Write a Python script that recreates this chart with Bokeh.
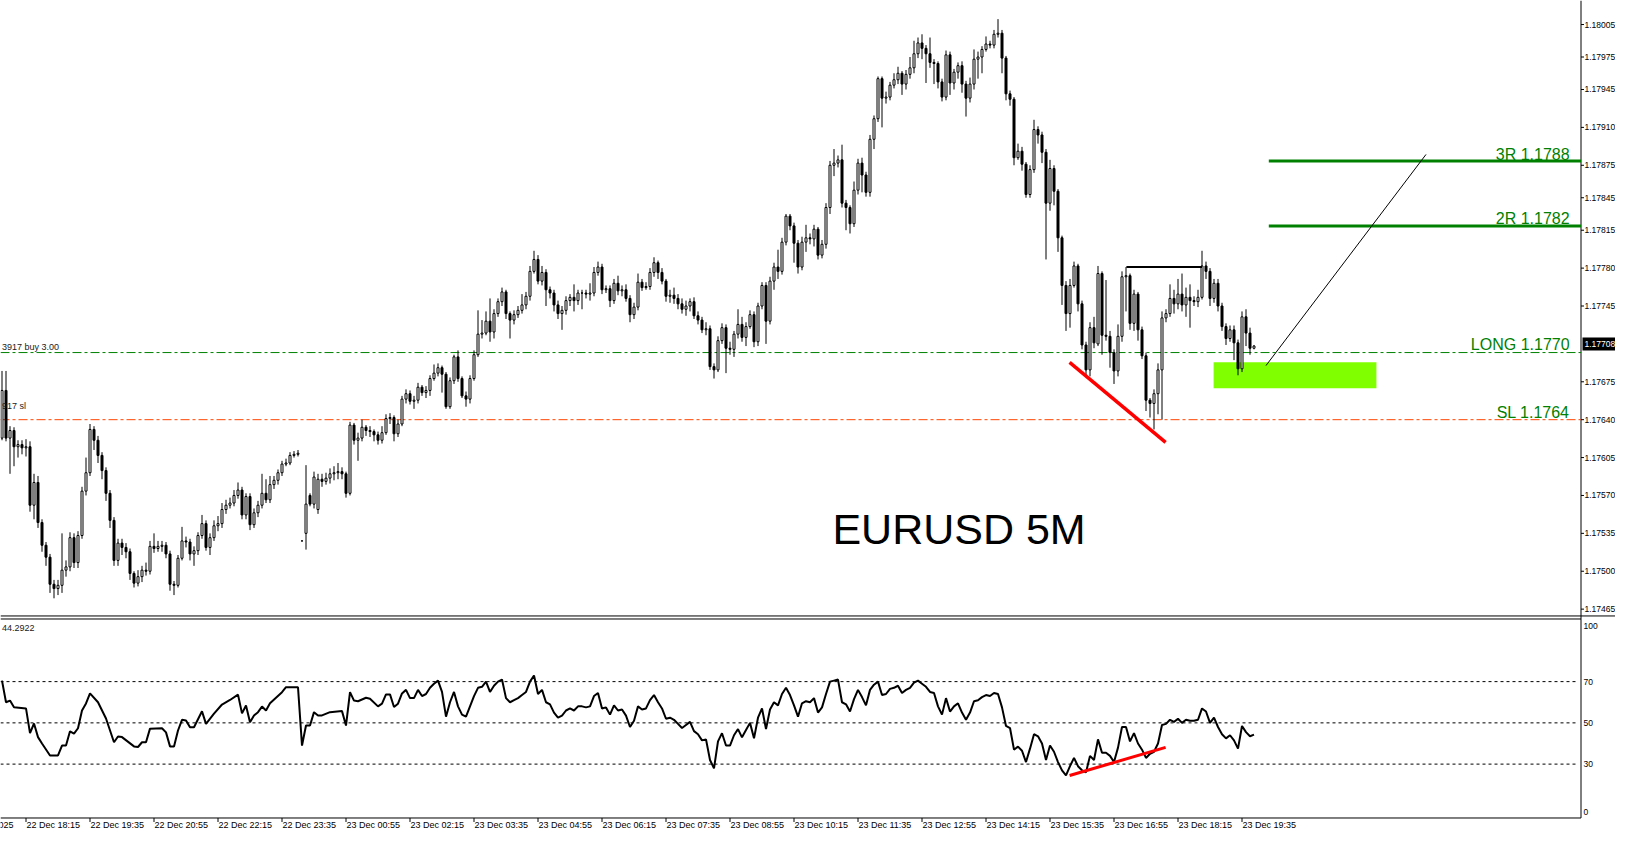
from bokeh.plotting import figure
from bokeh.models import Range1d, ColumnDataSource
from bokeh.embed import file_html
from bokeh.resources import INLINE
from bokeh.core.properties import value

# ---------------- data (EURUSD M5, bar index 0 = 22 Dec 17:45) ----------------
opens = [
1.17623,1.17667,1.17623,1.17630,1.17615,1.17617,1.17614,1.17615,1.17561,1.17582,
1.17545,1.17524,1.17513,1.17488,1.17484,1.17487,1.17501,1.17504,1.17531,1.17508,
1.17533,1.17574,1.17591,1.17631,1.17621,1.17607,1.17593,1.17572,1.17547,1.17510,
1.17526,1.17522,1.17518,1.17498,1.17489,1.17495,1.17501,1.17500,1.17523,1.17521,
1.17523,1.17524,1.17516,1.17488,1.17487,1.17512,1.17528,1.17527,1.17516,1.17519,
1.17533,1.17544,1.17522,1.17531,1.17542,1.17544,1.17557,1.17561,1.17563,1.17570,
1.17575,1.17552,1.17569,1.17543,1.17554,1.17561,1.17572,1.17566,1.17580,1.17584,
1.17591,1.17599,1.17600,1.17607,1.17608,1.17528,1.17535,1.17570,1.17562,1.17557,
1.17585,1.17583,1.17586,1.17590,1.17591,1.17592,1.17590,1.17572,1.17635,1.17621,
1.17623,1.17633,1.17630,1.17629,1.17626,1.17621,1.17628,1.17641,1.17642,1.17627,
1.17636,1.17659,1.17664,1.17657,1.17658,1.17670,1.17665,1.17667,1.17678,1.17683,
1.17688,1.17682,1.17652,1.17676,1.17698,1.17678,1.17662,1.17659,1.17678,1.17700,
1.17719,1.17720,1.17731,1.17721,1.17738,1.17749,1.17758,1.17738,1.17732,1.17737,
1.17741,1.17746,1.17754,1.17777,1.17788,1.17768,1.17776,1.17760,1.17757,1.17746,
1.17738,1.17741,1.17750,1.17753,1.17750,1.17757,1.17757,1.17756,1.17757,1.17776,
1.17781,1.17760,1.17761,1.17750,1.17766,1.17759,1.17760,1.17752,1.17737,1.17744,
1.17767,1.17762,1.17763,1.17776,1.17785,1.17776,1.17768,1.17754,1.17755,1.17752,
1.17747,1.17742,1.17745,1.17749,1.17736,1.17732,1.17723,1.17724,1.17689,1.17686,
1.17713,1.17725,1.17706,1.17705,1.17719,1.17728,1.17716,1.17726,1.17737,1.17712,
1.17745,1.17764,1.17731,1.17768,1.17781,1.17777,1.17804,1.17828,1.17819,1.17803,
1.17781,1.17804,1.17808,1.17807,1.17816,1.17792,1.17802,1.17836,1.17875,1.17877,
1.17880,1.17840,1.17836,1.17821,1.17852,1.17877,1.17866,1.17850,1.17899,1.17918,
1.17955,1.17937,1.17938,1.17949,1.17954,1.17960,1.17950,1.17959,1.17965,1.17978,
1.17988,1.17983,1.17978,1.17970,1.17969,1.17952,1.17938,1.17977,1.17951,1.17961,
1.17967,1.17950,1.17937,1.17950,1.17973,1.17975,1.17982,1.17987,1.17986,1.17996,
1.17997,1.17974,1.17941,1.17936,1.17882,1.17888,1.17876,1.17848,1.17871,1.17908,
1.17903,1.17887,1.17840,1.17872,1.17851,1.17808,1.17764,1.17738,1.17764,1.17782,
1.17747,1.17709,1.17686,1.17725,1.17710,1.17775,1.17718,1.17717,1.17702,1.17685,
1.17717,1.17772,1.17773,1.17729,1.17756,1.17723,1.17699,1.17658,1.17655,1.17664,
1.17686,1.17734,1.17738,1.17752,1.17747,1.17756,1.17746,1.17753,1.17750,1.17749,
1.17753,1.17782,1.17777,1.17752,1.17766,1.17745,1.17726,1.17715,1.17723,1.17711,
1.17687,1.17735,1.17720,1.17706]

closes = [
1.17667,1.17623,1.17630,1.17615,1.17617,1.17614,1.17615,1.17561,1.17582,1.17545,
1.17524,1.17513,1.17488,1.17484,1.17487,1.17501,1.17504,1.17531,1.17508,1.17533,
1.17574,1.17591,1.17631,1.17621,1.17607,1.17593,1.17572,1.17547,1.17510,1.17526,
1.17522,1.17518,1.17498,1.17489,1.17495,1.17501,1.17500,1.17523,1.17521,1.17523,
1.17524,1.17516,1.17488,1.17487,1.17512,1.17528,1.17527,1.17516,1.17519,1.17533,
1.17544,1.17522,1.17531,1.17542,1.17544,1.17557,1.17561,1.17563,1.17570,1.17575,
1.17552,1.17569,1.17543,1.17554,1.17561,1.17572,1.17566,1.17580,1.17584,1.17591,
1.17599,1.17600,1.17607,1.17608,1.17609,1.17528,1.17562,1.17562,1.17587,1.17585,
1.17583,1.17586,1.17590,1.17591,1.17592,1.17590,1.17572,1.17635,1.17621,1.17623,
1.17633,1.17630,1.17629,1.17626,1.17621,1.17628,1.17641,1.17642,1.17627,1.17636,
1.17659,1.17664,1.17657,1.17658,1.17670,1.17665,1.17667,1.17678,1.17683,1.17688,
1.17682,1.17652,1.17676,1.17698,1.17678,1.17662,1.17659,1.17678,1.17700,1.17719,
1.17720,1.17731,1.17721,1.17738,1.17749,1.17758,1.17738,1.17732,1.17737,1.17741,
1.17746,1.17754,1.17777,1.17788,1.17768,1.17776,1.17760,1.17757,1.17746,1.17738,
1.17741,1.17750,1.17753,1.17750,1.17757,1.17757,1.17756,1.17757,1.17776,1.17781,
1.17760,1.17761,1.17750,1.17766,1.17759,1.17760,1.17752,1.17737,1.17744,1.17767,
1.17762,1.17763,1.17776,1.17785,1.17776,1.17768,1.17754,1.17755,1.17752,1.17747,
1.17742,1.17745,1.17749,1.17736,1.17732,1.17723,1.17724,1.17689,1.17686,1.17713,
1.17725,1.17706,1.17705,1.17719,1.17728,1.17716,1.17726,1.17737,1.17712,1.17745,
1.17764,1.17731,1.17768,1.17781,1.17777,1.17804,1.17828,1.17819,1.17803,1.17781,
1.17804,1.17808,1.17807,1.17816,1.17792,1.17802,1.17836,1.17875,1.17877,1.17880,
1.17840,1.17836,1.17821,1.17852,1.17877,1.17866,1.17850,1.17899,1.17918,1.17955,
1.17937,1.17938,1.17949,1.17954,1.17960,1.17950,1.17959,1.17965,1.17978,1.17988,
1.17983,1.17978,1.17970,1.17969,1.17952,1.17938,1.17977,1.17951,1.17961,1.17967,
1.17950,1.17937,1.17950,1.17973,1.17975,1.17982,1.17987,1.17986,1.17996,1.17997,
1.17974,1.17941,1.17936,1.17882,1.17888,1.17876,1.17848,1.17871,1.17908,1.17903,
1.17887,1.17840,1.17872,1.17851,1.17808,1.17764,1.17738,1.17764,1.17782,1.17747,
1.17709,1.17686,1.17725,1.17711,1.17775,1.17718,1.17717,1.17702,1.17685,1.17717,
1.17772,1.17773,1.17729,1.17756,1.17723,1.17699,1.17658,1.17655,1.17664,1.17686,
1.17734,1.17738,1.17752,1.17747,1.17756,1.17746,1.17753,1.17750,1.17749,1.17753,
1.17782,1.17777,1.17752,1.17766,1.17745,1.17726,1.17715,1.17723,1.17711,1.17687,
1.17735,1.17720,1.17706,1.17708]

highs = [
1.17685,1.17685,1.17634,1.17633,1.17621,1.17621,1.17622,1.17620,1.17590,1.17588,
1.17548,1.17527,1.17516,1.17492,1.17492,1.17535,1.17510,1.17536,1.17535,1.17537,
1.17578,1.17605,1.17636,1.17634,1.17625,1.17610,1.17596,1.17575,1.17550,1.17530,
1.17530,1.17526,1.17521,1.17500,1.17501,1.17505,1.17508,1.17528,1.17535,1.17528,
1.17528,1.17527,1.17519,1.17491,1.17515,1.17541,1.17532,1.17530,1.17523,1.17536,
1.17552,1.17547,1.17535,1.17547,1.17551,1.17563,1.17566,1.17568,1.17575,1.17582,
1.17578,1.17572,1.17572,1.17558,1.17565,1.17590,1.17585,1.17588,1.17588,1.17594,
1.17602,1.17604,1.17610,1.17611,1.17612,1.17528,1.17598,1.17572,1.17592,1.17590,
1.17590,1.17591,1.17595,1.17597,1.17600,1.17596,1.17592,1.17638,1.17637,1.17628,
1.17640,1.17635,1.17634,1.17631,1.17629,1.17634,1.17645,1.17646,1.17644,1.17640,
1.17662,1.17668,1.17667,1.17662,1.17674,1.17672,1.17671,1.17681,1.17691,1.17692,
1.17690,1.17684,1.17679,1.17700,1.17704,1.17680,1.17666,1.17681,1.17704,1.17741,
1.17732,1.17740,1.17752,1.17742,1.17752,1.17762,1.17760,1.17740,1.17741,1.17745,
1.17756,1.17758,1.17782,1.17796,1.17792,1.17782,1.17779,1.17763,1.17760,1.17750,
1.17745,1.17754,1.17756,1.17765,1.17760,1.17760,1.17760,1.17766,1.17781,1.17786,
1.17784,1.17764,1.17764,1.17770,1.17773,1.17764,1.17765,1.17755,1.17748,1.17775,
1.17770,1.17767,1.17780,1.17790,1.17787,1.17780,1.17770,1.17760,1.17762,1.17756,
1.17752,1.17750,1.17752,1.17753,1.17740,1.17735,1.17730,1.17727,1.17692,1.17717,
1.17729,1.17728,1.17712,1.17722,1.17742,1.17735,1.17730,1.17741,1.17740,1.17748,
1.17767,1.17767,1.17772,1.17785,1.17797,1.17808,1.17830,1.17830,1.17822,1.17806,
1.17809,1.17820,1.17812,1.17820,1.17818,1.17806,1.17840,1.17879,1.17890,1.17884,
1.17894,1.17843,1.17838,1.17860,1.17881,1.17882,1.17869,1.17903,1.17921,1.17957,
1.17957,1.17943,1.17952,1.17960,1.17966,1.17962,1.17963,1.17975,1.17990,1.17993,
1.17996,1.17986,1.17993,1.17973,1.17971,1.17955,1.17981,1.17980,1.17964,1.17970,
1.17971,1.17953,1.17956,1.17982,1.17980,1.17985,1.17994,1.17990,1.18000,1.18010,
1.18000,1.17976,1.17944,1.17938,1.17895,1.17892,1.17878,1.17875,1.17917,1.17911,
1.17906,1.17890,1.17880,1.17875,1.17853,1.17810,1.17768,1.17770,1.17786,1.17784,
1.17750,1.17712,1.17730,1.17735,1.17782,1.17777,1.17769,1.17722,1.17705,1.17728,
1.17777,1.17781,1.17775,1.17760,1.17758,1.17726,1.17702,1.17660,1.17668,1.17692,
1.17740,1.17742,1.17765,1.17760,1.17770,1.17775,1.17762,1.17765,1.17754,1.17760,
1.17796,1.17786,1.17780,1.17770,1.17770,1.17748,1.17729,1.17727,1.17727,1.17714,
1.17740,1.17742,1.17725,1.17709]

lows = [
1.17621,1.17620,1.17590,1.17597,1.17605,1.17608,1.17606,1.17555,1.17548,1.17540,
1.17518,1.17505,1.17480,1.17475,1.17478,1.17480,1.17495,1.17500,1.17503,1.17503,
1.17530,1.17570,1.17588,1.17612,1.17600,1.17585,1.17565,1.17540,1.17505,1.17505,
1.17515,1.17512,1.17492,1.17485,1.17486,1.17490,1.17496,1.17497,1.17517,1.17518,
1.17518,1.17512,1.17482,1.17478,1.17485,1.17510,1.17522,1.17510,1.17505,1.17515,
1.17530,1.17519,1.17515,1.17528,1.17537,1.17540,1.17553,1.17558,1.17560,1.17567,
1.17548,1.17548,1.17538,1.17540,1.17550,1.17558,1.17563,1.17563,1.17576,1.17580,
1.17588,1.17597,1.17598,1.17605,1.17606,1.17528,1.17520,1.17560,1.17558,1.17553,
1.17578,1.17580,1.17581,1.17584,1.17585,1.17585,1.17568,1.17570,1.17617,1.17602,
1.17620,1.17625,1.17624,1.17620,1.17617,1.17618,1.17626,1.17636,1.17620,1.17624,
1.17634,1.17655,1.17654,1.17650,1.17655,1.17662,1.17660,1.17662,1.17676,1.17680,
1.17665,1.17650,1.17650,1.17673,1.17675,1.17660,1.17652,1.17655,1.17676,1.17698,
1.17715,1.17718,1.17712,1.17715,1.17735,1.17745,1.17733,1.17715,1.17728,1.17734,
1.17738,1.17742,1.17750,1.17775,1.17765,1.17764,1.17745,1.17752,1.17740,1.17733,
1.17723,1.17737,1.17745,1.17740,1.17746,1.17742,1.17752,1.17750,1.17754,1.17773,
1.17756,1.17757,1.17744,1.17747,1.17755,1.17754,1.17749,1.17730,1.17733,1.17741,
1.17759,1.17760,1.17760,1.17772,1.17770,1.17765,1.17749,1.17748,1.17747,1.17742,
1.17738,1.17736,1.17740,1.17733,1.17728,1.17720,1.17718,1.17686,1.17678,1.17684,
1.17710,1.17683,1.17700,1.17698,1.17715,1.17712,1.17708,1.17724,1.17707,1.17708,
1.17742,1.17710,1.17728,1.17760,1.17770,1.17774,1.17801,1.17815,1.17785,1.17775,
1.17778,1.17795,1.17802,1.17800,1.17788,1.17789,1.17798,1.17830,1.17865,1.17873,
1.17836,1.17815,1.17812,1.17818,1.17848,1.17850,1.17846,1.17846,1.17890,1.17915,
1.17910,1.17932,1.17935,1.17946,1.17950,1.17940,1.17945,1.17955,1.17960,1.17974,
1.17973,1.17951,1.17965,1.17950,1.17946,1.17934,1.17935,1.17940,1.17945,1.17955,
1.17942,1.17920,1.17933,1.17945,1.17955,1.17960,1.17980,1.17983,1.17983,1.17993,
1.17960,1.17935,1.17930,1.17875,1.17880,1.17870,1.17845,1.17845,1.17868,1.17895,
1.17877,1.17788,1.17833,1.17838,1.17795,1.17746,1.17722,1.17725,1.17762,1.17740,
1.17705,1.17681,1.17680,1.17706,1.17708,1.17700,1.17713,1.17688,1.17673,1.17680,
1.17712,1.17740,1.17723,1.17722,1.17713,1.17696,1.17648,1.17642,1.17631,1.17645,
1.17640,1.17730,1.17735,1.17738,1.17742,1.17740,1.17735,1.17725,1.17745,1.17744,
1.17751,1.17770,1.17745,1.17748,1.17740,1.17722,1.17709,1.17712,1.17695,1.17681,
1.17684,1.17708,1.17700,1.17705]

# RSI(14) read from the indicator window: vertices (bar index, value)
rsi_bars = [0,1,2,3,6,7,8,9,10,12,14,15,16,17,18,19,20,21,22,24,26,28,29,30,33,34,35,36,37,40,
            41,42,43,44,45,46,47,48,50,51,53,55,57,59,60,61,62,63,64,65,66,67,70,71,74,75,76,77,78,79,
            80,82,85,86,87,88,89,91,92,94,95,96,97,98,99,100] + list(range(101, 314))
rsi_vals = [70.5,60.0,60.8,57.6,57.0,45.0,49.7,43.1,40.0,34.2,34.2,39.0,39.0,45.9,44.8,47.4,56.0,59.4,64.3,60.0,
            52.1,40.6,43.4,43.1,38.6,38.3,40.6,40.6,47.2,47.4,45.4,38.6,38.6,46.3,51.5,51.2,47.9,47.9,55.6,49.5,
            54.5,58.9,61.1,63.7,54.6,58.4,50.3,53.6,55.2,57.9,56.0,59.5,64.9,67.3,67.3,39.0,48.7,48.7,55.2,53.6,
            53.6,55.2,55.7,48.7,64.9,60.8,60.5,62.2,61.7,58.0,59.3,63.8,63.8,57.7,59.3,64.3,
            66,62,62,66,63,64,67,69,70.5,                      # 101-109
            65,53,60,65,58,54,53,58,63,67,                      # 110-119
            67.5,70,65,68,70,71,62,60,61,62,                    # 120-129
            63.5,65,70,73,64,66,60,59,55,52.5,                  # 130-139
            53.5,56,57,56,58,58,57.5,58,63,64.5,                # 140-149
            57,57.5,54,58.5,56,56.5,53.5,48,51,58,              # 150-159
            56.5,57,61,63.5,60,57,52,52.5,51.5,49.5,            # 160-169
            47.5,49,50.5,46,44.5,41.5,42,32,28,41,              # 170-179
            45,39,39,44,47,43,46.5,50,42.5,52.5,                # 180-189
            57,47,56.5,60,58.5,64,67,63.5,58.5,53,              # 190-199
            59.5,60.5,60,62,55,57.5,64,70,70.5,71,              # 200-209
            60,59,55.5,61.5,66,62.5,58.5,66,68.5,70,            # 210-219
            63.5,64,66.5,67,68,64.5,66,67,69.5,70.5,            # 220-229
            69,67.5,65,64.5,58,54,62,55.5,58,59.5,              # 230-239
            55,51.5,55,60.5,61,62.5,63.5,63,64.5,64,            # 240-249
            57.5,48.5,47.5,37,38.5,36.5,31,37.5,44.5,43.5,      # 250-259
            40,32,39,36,31,27,24.5,29,33,29,                    # 260-269
            27,26,34,32,42,35.5,35.5,34,31,38,                  # 270-279
            48,48,41,45,40,37,33,35,36,40,                      # 280-289
            49,49.5,51.5,50.5,52,50,51.5,51,51,51.5,            # 290-299
            57,55.5,50,52.5,48,44.5,42.5,44,41.5,37.5,          # 300-309
            48.5,45.5,43.5,44.3]                                # 310-313
rsi_levels = [70, 50, 30]
rsi_scale = [100, 70, 50, 30, 0]

price_ticks = [1.18005, 1.17975, 1.17945, 1.17910, 1.17875, 1.17845, 1.17815, 1.17780,
               1.17745, 1.17675, 1.17640, 1.17605, 1.17570, 1.17535, 1.17500, 1.17465]
time_tick_bars = [-10, 6, 22, 38, 54, 70, 86, 102, 118, 134, 150, 166, 182, 198, 214, 230,
                  246, 262, 278, 294, 310]
time_labels = ["22 Dec 2025", "22 Dec 18:15", "22 Dec 19:35", "22 Dec 20:55", "22 Dec 22:15",
               "22 Dec 23:35", "23 Dec 00:55", "23 Dec 02:15", "23 Dec 03:35", "23 Dec 04:55",
               "23 Dec 06:15", "23 Dec 07:35", "23 Dec 08:55", "23 Dec 10:15", "23 Dec 11:35",
               "23 Dec 12:55", "23 Dec 14:15", "23 Dec 15:35", "23 Dec 16:55", "23 Dec 18:15",
               "23 Dec 19:35"]

# chart objects (trade levels and hand drawings)
long_price = 1.17702
sl_price = 1.17640
r2_price = 1.17819
r3_price = 1.17879
last_price = 1.17708
rsi_last = "44.2922"
target_start = 316.7
zone_bars = [302.9, 343.6]
zone_prices = [1.17669, 1.17693]
arrow_bars = [316.0, 356.0]
arrow_prices = [1.17690, 1.17885]
div_bars = [266.9, 290.9]
div_prices = [1.17693, 1.17619]
rsi_div_vals = [24.5, 38.1]
top_bars = [281.1, 300.0]
top_price = 1.17781

FONT = "Liberation Sans"

# ---------------- layout constants (screen geometry in data units) ----------------
X0, X1 = -0.375, 403.375          # full canvas width, 4 px per bar
AX = 394.75                       # right price-scale line
Y_TOP = 1.180272
Y_BOT = 1.1726145
PANEL_BOTTOM_RSI = 3.88           # bottom border of indicator window (RSI units)

p = figure(width=1615, height=829, output_backend="svg", toolbar_location=None,
           x_range=Range1d(X0, X1), y_range=Range1d(Y_BOT, Y_TOP),
           x_axis_location=None, y_axis_location=None,
           min_border_left=0, min_border_right=0, min_border_top=0, min_border_bottom=0)
p.grid.visible = False
p.outline_line_color = None
p.background_fill_color = "white"
p.border_fill_color = "white"
p.extra_y_ranges = {"rsi": Range1d(-1.697, 400.242)}

def txt(x, y, t, size="9px", color="black", align="left", baseline="middle", rng=None, **kw):
    args = dict(x=x, y=y, text=t, text_font=value(FONT), text_font_size=value(size),
                text_color=color, text_align=align, text_baseline=baseline, **kw)
    if rng:
        args["y_range_name"] = rng
    p.text(**args)

# panel separators and borders
p.segment(x0=[X0, X0], x1=[X1, AX], y0=[1.174587, 1.174559], y1=[1.174587, 1.174559],
          line_color="black", line_width=1)
p.segment(x0=[AX], x1=[AX], y0=[Y_TOP], y1=[1.172721], line_color="black", line_width=1)
p.segment(x0=[X0], x1=[AX], y0=[PANEL_BOTTOM_RSI], y1=[PANEL_BOTTOM_RSI],
          y_range_name="rsi", line_color="black", line_width=1)

# RSI level lines
p.segment(x0=[X0] * 3, x1=[393.9] * 3, y0=rsi_levels, y1=rsi_levels, y_range_name="rsi",
          line_color="black", line_width=1, line_dash="3 3")

# trade level lines
p.segment(x0=[X0], x1=[AX], y0=[long_price], y1=[long_price], line_color="#008000",
          line_width=1, line_dash="9 3 3 3")
p.segment(x0=[X0], x1=[AX], y0=[sl_price], y1=[sl_price], line_color="#FF4500",
          line_width=1, line_dash="9 3 3 3")

# green zone
p.quad(left=[zone_bars[0]], right=[zone_bars[1]], bottom=[zone_prices[0]], top=[zone_prices[1]],
       fill_color="#80FF00", line_color=None)

# candles
bars = list(range(len(closes)))
p.segment(x0=bars, y0=lows, x1=bars, y1=highs, line_color="black", line_width=1)
up = [i for i in bars if closes[i] >= opens[i]]
dn = [i for i in bars if closes[i] < opens[i]]
src_up = ColumnDataSource(dict(x=up, top=[closes[i] for i in up], bottom=[opens[i] for i in up]))
src_dn = ColumnDataSource(dict(x=dn, top=[opens[i] for i in dn], bottom=[closes[i] for i in dn]))
p.vbar(x="x", top="top", bottom="bottom", width=0.5, source=src_up,
       fill_color="white", line_color="black", line_width=1)
p.vbar(x="x", top="top", bottom="bottom", width=0.5, source=src_dn,
       fill_color="black", line_color="black", line_width=1)

# drawings
p.segment(x0=[target_start] * 2, x1=[AX] * 2, y0=[r3_price, r2_price], y1=[r3_price, r2_price],
          line_color="#008000", line_width=3)
p.line(x=arrow_bars, y=arrow_prices, line_color="black", line_width=1)
p.line(x=div_bars, y=div_prices, line_color="#FF0000", line_width=3.5)
p.line(x=top_bars, y=[top_price, top_price], line_color="black", line_width=2)

# RSI
p.line(x=rsi_bars, y=rsi_vals, y_range_name="rsi", line_color="black", line_width=2)
p.line(x=div_bars, y=rsi_div_vals, y_range_name="rsi", line_color="#FF0000", line_width=3)

# texts on chart
txt([0.0], [1.177074], ["3917 buy 3.00"], color="#1a1a1a")
txt([0.0], [1.176531], ["917 sl"], color="#1a1a1a")
txt([0.0], [96.2], [rsi_last], rng="rsi", color="#1a1a1a")
txt([391.9] * 4, [1.178851, 1.178260, 1.177096, 1.176469],
    ["3R 1.1788", "2R 1.1782", "LONG 1.1770", "SL 1.1764"],
    size="16px", color="#008000", align="right")
txt([207.6], [1.175386], ["EURUSD 5M"], size="43px")

# right price scale
p.segment(x0=[AX] * len(price_ticks), x1=[AX + 0.75] * len(price_ticks),
          y0=price_ticks, y1=price_ticks, line_color="black", line_width=1)
txt([395.625] * len(price_ticks), price_ticks, ["%.5f" % v for v in price_ticks], size="8.5px")
p.quad(left=[395.125], right=[X1], bottom=[1.177039], top=[1.177159],
       fill_color="black", line_color=None)
txt([395.625], [1.177099], ["%.5f" % last_price], size="8.5px", color="white")

# RSI scale labels
txt([395.375] * 5, [97.2, 70, 50, 30, 7.0], [str(v) for v in rsi_scale], size="8.5px", rng="rsi")

# time scale
ticks_in = [b for b in time_tick_bars if b >= 0]
p.segment(x0=ticks_in, x1=ticks_in, y0=[PANEL_BOTTOM_RSI] * len(ticks_in),
          y1=[1.94] * len(ticks_in), y_range_name="rsi", line_color="black", line_width=1)
txt([b + 0.125 for b in time_tick_bars], [0.485] * len(time_tick_bars), time_labels, rng="rsi")

open("out.html", "w").write(file_html(p, INLINE))
